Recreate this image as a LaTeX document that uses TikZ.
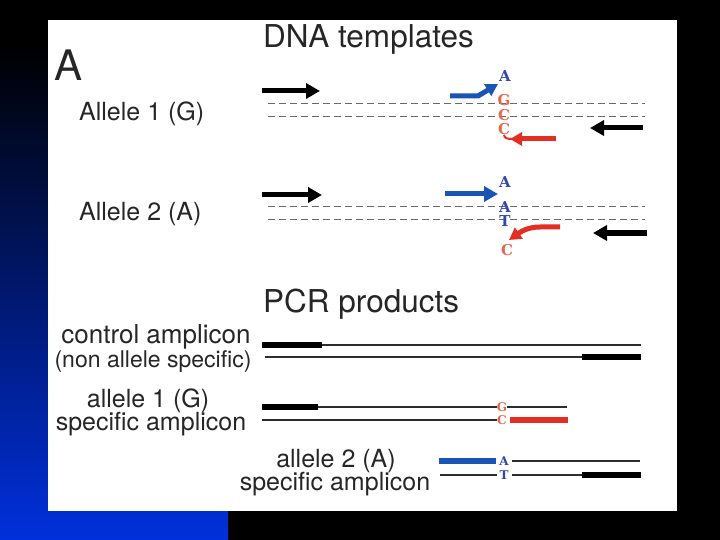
\documentclass[tikz,border=0pt]{standalone}
\usepackage{fontspec}
\setmainfont{TeX Gyre Heros}
\newfontfamily\nucfont{DejaVu Serif}
\usetikzlibrary{arrows.meta}
\definecolor{txtgray}{RGB}{38,38,38}
\definecolor{arrblue}{RGB}{25,85,180}
\definecolor{arrred}{RGB}{228,45,35}
\definecolor{nucblue}{RGB}{50,70,175}
\definecolor{nucred}{RGB}{228,105,75}
\definecolor{dashgray}{RGB}{105,105,105}
\definecolor{linegray}{RGB}{45,45,45}
\definecolor{slideblue}{RGB}{0,48,220}
\definecolor{slidemid}{RGB}{0,22,120}
\begin{document}
\begin{tikzpicture}[x=1pt,y=-1pt,
  lbl/.style={text=txtgray,inner sep=0pt,anchor=base,font=\fontsize{25}{25}\selectfont},
  allele/.style={text=txtgray,inner sep=0pt,anchor=base west,font=\fontsize{25}{25}\selectfont},
  heading/.style={text=txtgray,inner sep=0pt,anchor=base west,font=\fontsize{31.5}{31.5}\selectfont},
  nuc/.style={inner sep=0pt,font=\nucfont\bfseries\fontsize{15}{15}\selectfont},
  nucs/.style={inner sep=0pt,font=\nucfont\bfseries\fontsize{12}{12}\selectfont},
  nb/.style={nuc,text=nucblue},
  nr/.style={nuc,text=nucred},
  pb/.style={nucs,text=nucblue},
  pr/.style={nucs,text=nucred},
  fat/.style={line width=5pt,-{Triangle[length=14pt,width=15pt]}},
  fatsmall/.style={line width=5pt,-{Triangle[length=12pt,width=13pt]}},
  strand/.style={dashgray,line width=1pt,dash pattern=on 7pt off 4pt},
  thin/.style={linegray,line width=1.3pt},
  bar/.style={line width=6pt}]
\useasboundingbox (0,0) rectangle (720,540);
% slide background
\fill[black] (0,0) rectangle (720,540);
\shade[top color=black,middle color=slidemid,bottom color=slideblue] (0,45) rectangle (228,540);
\fill[white] (48,20) rectangle (677,511);
% headings
\node[heading,font=\fontsize{42}{42}\selectfont] (panel) at (54,81) {A};
\node[heading] (dna) at (263,48) {DNA templates};
\node[heading] (pcr) at (263,312) {PCR products};
\node[allele] (a1) at (79,121) {Allele 1 (G)};
\node[allele] (a2) at (79,221) {Allele 2 (A)};
% ---- Allele 1 template ----
\draw[strand] (268,104) -- (645,104);
\draw[strand] (268,117) -- (645,117);
\draw[fat] (262,91) -- (320,91);
\draw[fat] (643,128) -- (590,128);
\node[nb] (n1a) at (505,76) {A};
\node[nr] (n1g) at (504,100) {G};
\node[nr] (n1c) at (504,115) {C};
\node[nr] (n1c2) at (504,129) {C};
\draw[arrblue,fatsmall] (450,96) -- (478,96) -- (498,84);
\draw[arrred,line width=2pt] (n1c2.south) to[out=-90,in=180] (512,139);
\draw[arrred,fatsmall] (556,139) -- (510,139);
% ---- Allele 2 template ----
\draw[strand] (268,207) -- (645,207);
\draw[strand] (268,220) -- (645,220);
\draw[fat] (262,195) -- (322,195);
\draw[fat] (647,233) -- (593,233);
\node[nb] (n2a) at (505,182) {A};
\node[nb] (n2a2) at (505,207) {A};
\node[nb] (n2t) at (505,221) {T};
\node[nr] (n2c) at (507,250) {C};
\draw[arrblue,fat] (445,194) -- (498,194);
\draw[arrred,fatsmall] (560,227) -- (540,227) to[out=180,in=35] (509,240);
% ---- PCR products ----
\node[lbl,font=\fontsize{26}{26}\selectfont] (c1) at (156,343) {control amplicon};
\node[lbl,font=\fontsize{23}{23}\selectfont] (c2) at (153,367) {(non allele specific)};
\draw[thin] (262,345) -- (641,345);
\draw[bar] (262,345) -- (322,345);
\draw[thin] (265,357) -- (641,357);
\draw[bar] (582,357) -- (641,357);
\node[lbl] (s1) at (148,407) {allele 1 (G)};
\node[lbl] (s2) at (151,430) {specific amplicon};
\node[pr] (p1g) at (502,407) {G};
\node[pr] (p1c) at (502,420) {C};
\draw[thin] (262,407) -- (p1g.west);
\draw[thin] (p1g.east) -- (567,407);
\draw[bar] (262,407) -- (318,407);
\draw[thin] (262,420) -- (p1c.west);
\draw[bar,arrred] (510,420) -- (568,420);
\node[lbl] (t1) at (336,467) {allele 2 (A)};
\node[lbl] (t2) at (335,490) {specific amplicon};
\node[pb] (p2a) at (504,461) {A};
\node[pb] (p2t) at (504,475) {T};
\draw[bar,arrblue] (439,461) -- (496,461);
\draw[thin] (512,461) -- (640,461);
\draw[thin] (440,475) -- (497,475);
\draw[thin] (512,475) -- (582,475);
\draw[bar] (582,475) -- (641,475);
\end{tikzpicture}
\end{document}
